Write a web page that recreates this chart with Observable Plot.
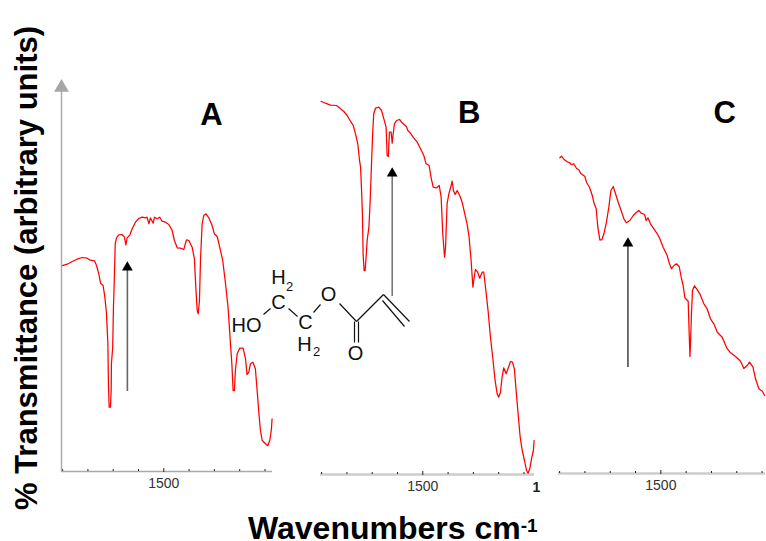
<!DOCTYPE html>
<html><head><meta charset="utf-8">
<script src="https://cdn.jsdelivr.net/npm/d3@7"></script>
<script src="https://cdn.jsdelivr.net/npm/@observablehq/plot@0.6"></script>
<style>
html,body{margin:0;padding:0;background:#fff;overflow:hidden}
#fig{position:relative;width:766px;height:541px;overflow:hidden;font-family:"Liberation Sans",Arial,sans-serif}
#fig svg{position:absolute;left:0;top:0;background:transparent}
#ylab{position:absolute;left:27px;top:268px;transform:translate(-50%,-50%) rotate(-90deg);white-space:nowrap;font-weight:bold;font-size:31px;color:#000}
#xlab{position:absolute;left:248px;top:515px;height:26px;white-space:nowrap;font-weight:bold;font-size:32px;line-height:26px;color:#000}
#xlab sup{font-size:19px;line-height:0;vertical-align:7px}
</style></head><body>
<div id="fig"><div id="ylab">% Transmittance (arbitrary units)</div><div id="xlab">Wavenumbers cm<sup>-1</sup></div></div>
<script>
const wnA=[1904.5,1882,1862,1843,1823,1803,1790,1774,1766,1757,1750,1740,1733,1727,1721,1719,1716,1711,1708,1707,1702,1699,1695,1692,1687,1678,1665,1655.5,1650,1645,1634,1625,1612,1599,1586,1572.5,1566,1559,1553,1542,1537,1526,1516,1507,1493.5,1480,1467,1458,1447,1434,1421,1410.5,1401,1388,1379,1373.5,1368,1364,1359,1355,1348.5,1342,1333,1322,1309,1300,1289,1279,1267,1256,1246,1236.5,1231,1226,1221,1217,1210,1200,1186.5,1177,1171,1164,1157.5,1148,1138,1131,1125,1118,1111,1098,1089,1081,1074.5,1072];
const tA=[205.7,207.3,210,212.3,214,213.3,211.3,210.7,206,197.7,188.3,186,174.3,159.3,127.7,89.3,64.3,64.3,81,107.7,124.3,164.3,197.7,227.7,233.7,236.7,237,234.3,226.7,233.7,236.7,242.7,249.3,253,254.3,253.7,254.3,247.7,253.7,248.3,254.3,252.7,254.3,250.3,249.3,247,241,231,223.7,223.3,222,231.7,231,224.3,212.7,184.3,161,157.7,171,211,247.7,256,257.7,253.7,246,237.7,235,224.3,211,187.7,164.3,127.7,107.7,81,81,101,117.7,123.3,123.3,112.7,97,99.3,107.7,109.3,102.7,81,61,41,31,27.7,25.7,31,42.7,52.7];
const wnB=[1902,1885,1865,1841,1825,1812,1799,1786,1775,1766,1757,1750,1746,1742,1738.5,1736,1732,1728,1725,1720,1713,1708,1702,1698,1694,1687,1674,1663,1654,1645,1641,1636,1632,1625,1621,1617,1612,1604,1592,1582,1565,1559,1549,1536,1522,1509,1496,1487,1475,1467,1459,1446,1435,1427.5,1421,1414,1410,1404,1397,1388,1384,1379,1372,1364,1354,1344.5,1334,1325,1317,1309,1302,1298.5,1292,1283,1275,1265.5,1259,1252,1250,1242,1232.5,1223,1215,1206,1200,1193,1186.5,1180,1170.6,1160,1153.5,1145.6,1138,1130,1122,1115,1107,1098,1090,1084,1077,1069,1062.6,1060];
const tB=[373.3,371.3,369.3,369,365.7,363,359,353.3,349,340.7,330.7,314,307.3,284,259,220.7,204,204,214,234,247.3,274,315.7,342.3,360.7,366.3,367.3,364,355.7,347.3,319,318,342.3,342.3,331.3,340.7,350.7,354,355,351.7,348,344,341.3,336.7,332.3,325.7,319,310.7,309,296.7,287.3,286.7,289,277.3,240.7,217.3,227.3,270.7,280.7,289,293.3,284,280,284,279,272.3,260.7,250.7,237.3,214,187.3,194,205,202.3,196.3,202.3,202.3,187.3,182.3,164,137.3,115.7,95.7,80.7,77.3,82.3,97.3,106.7,100.7,108,113,112.3,105.7,80.7,57.3,37.3,24,14,4,1.3,5.7,17.3,24,34];
const wnC=[1899,1892.5,1881,1870,1861,1854,1844,1833,1824,1817,1800,1794,1782,1771,1765,1755.5,1749,1741,1733,1725,1715,1705.5,1697.5,1688,1679,1668.5,1657,1646,1636,1622.6,1609,1596,1587,1578,1564.5,1558,1551,1541,1527.6,1514,1504,1491,1475,1466,1458,1448.5,1438,1427.5,1419.6,1412,1405,1392,1388,1385,1382.7,1379,1375,1367,1356,1346,1330,1317,1304,1290.6,1277,1257.5,1240,1224.5,1205,1185,1172,1159,1149.5,1136,1126,1112.6,1099,1090];
const tC=[315.7,317.3,313.7,311.7,311,309,309.7,305,303.7,300.3,297,291.3,286.3,278,271.3,264.7,246.3,233.7,233.7,239.7,251.3,266.3,283,287,279.7,271.3,263,254.7,250.7,253,258,261.3,263,260.3,259,253,255.7,249.7,244.7,239.7,234.7,226.3,218,209.7,204.7,208,209.7,207,196.3,188,175.7,172.3,139.7,117,131.3,159.7,183,187.7,183.7,179.7,169.7,164.7,154.7,149.7,141.3,136.3,125.7,120.7,117,112.3,105,108,111.3,106.3,94.7,84.7,82.3,78];
const minorTicks=[1900,1800,1700,1600,1400,1300,1200,1100];
const majorTick=[1500];
const panelNames=["A","B","C"];

function panel({name,wn,t,domain,range,base,axisColor,axisW,letterWn,letterT,arrow,extra=[]}){
  const pts=wn.map((w,i)=>({w,t:t[i]}));
  return Plot.plot({
    width:766,height:541,margin:0,
    style:{background:"transparent",overflow:"visible",fontFamily:'"Liberation Sans",Arial,sans-serif'},
    x:{domain,range,axis:null},
    y:{domain:[0,400],range:[base,base-400],axis:null},
    marks:[
      Plot.ruleY([0],{x1:domain[0],x2:domain[1],stroke:axisColor,strokeWidth:axisW}),
      Plot.ruleX(minorTicks,{y1:0,y2:2,stroke:"#222",strokeWidth:1}),
      Plot.ruleX(majorTick,{y1:-1,y2:3,stroke:"#222",strokeWidth:1}),
      Plot.text(majorTick,{x:d=>d,y:-12,text:d=>String(d),fontSize:14,fill:"#333"}),
      Plot.line(pts,{x:"w",y:"t",stroke:"#ff0000",strokeWidth:1.25,curve:"linear"}),
      Plot.ruleX([arrow.w],{y1:arrow.from,y2:arrow.to,stroke:arrow.color,strokeWidth:arrow.sw}),
      Plot.dot([arrow.w],{x:d=>d,y:arrow.to,symbol:"triangle",r:4,fill:"#000",stroke:"none"}),
      Plot.text([name],{x:letterWn,y:letterT,text:d=>d,fontSize:31,fontWeight:"bold",fill:"#000"}),
      ...extra
    ]
  });
}
const fig=document.getElementById("fig");
fig.appendChild(panel({name:panelNames[0],wn:wnA,t:tA,domain:[1904.4,1070.3],range:[61,272],base:471,axisColor:"#aaa",axisW:1.5,
  letterWn:1312,letterT:356,arrow:{w:1644,from:80,to:204,color:"#666",sw:1.6},
  extra:[
    Plot.ruleX([1904.4],{y1:0,y2:380,stroke:"#aaa",strokeWidth:1.5}),
    Plot.dot([1904.4],{x:d=>d,y:384,symbol:"triangle",r:5.5,fill:"#a6a6a6",stroke:"none"})
  ]}));
fig.appendChild(panel({name:panelNames[1],wn:wnB,t:tB,domain:[1904.4,1058.4],range:[320,534],base:474,axisColor:"#ccc",axisW:2.5,
  letterWn:1317,letterT:361,arrow:{w:1621,from:178,to:301,color:"#666",sw:1.4},
  extra:[Plot.text(["1"],{x:1058.4,y:-13,text:d=>d,fontSize:14,fontWeight:"bold",fill:"#222",dx:2})]}));
fig.appendChild(panel({name:panelNames[2],wn:wnC,t:tC,domain:[1904.4,1086.5],range:[558,765],base:473,axisColor:"#ccc",axisW:2.5,
  letterWn:1248,letterT:360,arrow:{w:1630,from:106,to:230,color:"#111",sw:1.2}}));

// hydroxyethyl acrylate structure drawn in its own drawing units
const bondX1=[263,288,313,339,354,358,356,383,382];
const bondY1=[314,308,312,303,321,321,321,294,300];
const bondX2=[270,297,320,356,354,358,383,409,404];
const bondY2=[308,316,304,321,342,342,294,321,326];
const atomLabels=["H","2","C","HO","C","H","2","O","O"];
const atomX=[278,289,278,246,305,304,316,328,355];
const atomY=[277,286,302,325,322,344,351,294,353];
const atomSize=[20,13,20,20,20,20,13,20,20];
const bonds=bondX1.map((x,i)=>({x1:x,y1:bondY1[i],x2:bondX2[i],y2:bondY2[i]}));
const atoms=atomLabels.map((s,i)=>({s,x:atomX[i],y:atomY[i],z:atomSize[i]}));
fig.appendChild(Plot.plot({
  width:766,height:541,margin:0,
  style:{background:"transparent",overflow:"visible",fontFamily:'"Liberation Sans",Arial,sans-serif'},
  x:{domain:[0,766],range:[0,766],axis:null},
  y:{domain:[0,541],range:[0,541],axis:null},
  marks:[
    Plot.link(bonds,{x1:"x1",y1:"y1",x2:"x2",y2:"y2",stroke:"#111",strokeWidth:1.2}),
    ...atoms.map(a=>Plot.text([a],{x:"x",y:"y",text:"s",fontSize:a.z,fill:"#111"}))
  ]
}));
</script>
</body></html>
